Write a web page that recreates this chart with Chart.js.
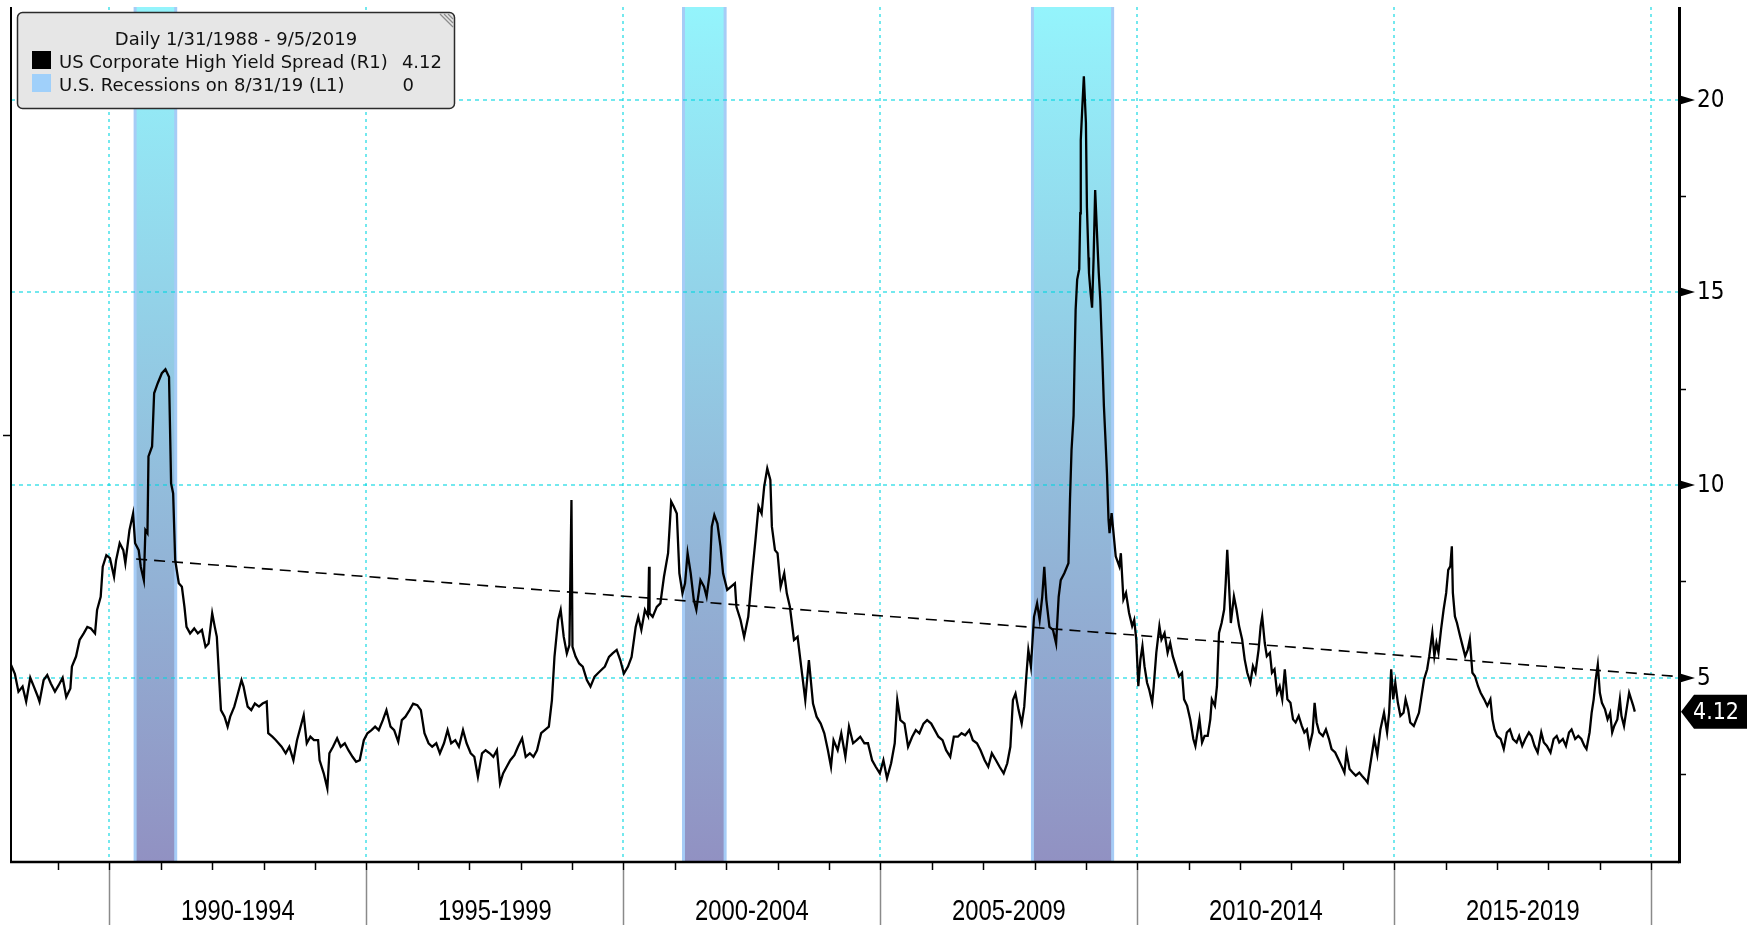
<!DOCTYPE html>
<html lang="en">
<head>
  <meta charset="UTF-8">
  <title>US Corporate High Yield Spread</title>
  <script src="https://cdn.jsdelivr.net/npm/chart.js"></script>
  <style>
    body {
      margin: 0;
      background: #fff;
    }
    .chart-container {
      width: 1751px;
      height: 925px;
    }
  </style>
</head>
<body>
  <div class="chart-container">
    <canvas id="spreadChart" width="1751" height="925"></canvas>
  </div>

  <script>
    // Axis ranges (decimal years / spread in %)
    const xMin = 1988.085, xMax = 2020.54;
    const yMin = 0.22, yMax = 22.4;

    const periodStarts = [1990, 1995, 2000, 2005, 2010, 2015, 2020];
    const periodLabels = ['1990-1994', '1995-1999', '2000-2004', '2005-2009', '2010-2014', '2015-2019'];
    const rightTicks = [5, 10, 15, 20];
    const rightMinorTicks = [2.5, 7.5, 12.5, 17.5];

    // US recessions (start, end) in decimal years
    const recessions = [[1990.5, 1991.29], [2001.17, 2001.98], [2007.96, 2009.52]];

    // dashed trend line end points
    const trendDates = [1990.52, 2020.54];
    const trendValues = [8.08, 5.03];

    // US Corporate High Yield Spread
    const spreadDates = [
      // 1988-1989
      1988.086, 1988.16, 1988.23, 1988.31, 1988.38, 1988.46, 1988.53, 1988.61, 1988.64, 1988.72, 1988.79, 1988.86, 1988.94,
      1989.01, 1989.09, 1989.16, 1989.24, 1989.27, 1989.35, 1989.42, 1989.50, 1989.57, 1989.64, 1989.72, 1989.76, 1989.83, 1989.87, 1989.94,
      // 1990-1991
      1990.01, 1990.09, 1990.13, 1990.20, 1990.27, 1990.31, 1990.39, 1990.46, 1990.50, 1990.57, 1990.61, 1990.67, 1990.70, 1990.74, 1990.76, 1990.83, 1990.87, 1990.94,
      1991.02, 1991.09, 1991.16, 1991.20, 1991.24, 1991.28, 1991.35, 1991.41, 1991.46, 1991.50, 1991.57, 1991.65, 1991.72, 1991.80, 1991.87, 1991.93,
      // 1992-1994
      1992.00, 1992.05, 1992.09, 1992.13, 1992.17, 1992.24, 1992.30, 1992.35, 1992.43, 1992.50, 1992.57, 1992.61, 1992.65, 1992.69, 1992.76, 1992.83, 1992.91, 1992.98,
      1993.06, 1993.09, 1993.17, 1993.24, 1993.35, 1993.43, 1993.50, 1993.58, 1993.65, 1993.72, 1993.78, 1993.84, 1993.91, 1993.98,
      1994.06, 1994.09, 1994.17, 1994.24, 1994.28, 1994.35, 1994.43, 1994.50, 1994.58, 1994.65, 1994.73, 1994.80, 1994.87, 1994.95,
      // 1995-1997
      1995.02, 1995.10, 1995.17, 1995.24, 1995.32, 1995.39, 1995.47, 1995.54, 1995.62, 1995.69, 1995.76, 1995.84, 1995.91, 1995.99,
      1996.06, 1996.13, 1996.21, 1996.28, 1996.36, 1996.43, 1996.51, 1996.58, 1996.65, 1996.73, 1996.80, 1996.88, 1996.95,
      1997.03, 1997.10, 1997.17, 1997.25, 1997.32, 1997.40, 1997.47, 1997.54, 1997.60, 1997.66, 1997.73, 1997.80, 1997.88, 1997.95,
      // 1998-1999
      1998.03, 1998.10, 1998.18, 1998.25, 1998.32, 1998.40, 1998.47, 1998.55, 1998.61, 1998.66, 1998.73, 1998.78, 1998.84, 1998.90, 1998.95, 1998.99,
      1999.01, 1999.07, 1999.14, 1999.21, 1999.29, 1999.36, 1999.44, 1999.50, 1999.57, 1999.64, 1999.72, 1999.79, 1999.87, 1999.94,
      // 2000-2002
      2000.01, 2000.09, 2000.16, 2000.24, 2000.29, 2000.35, 2000.42, 2000.48, 2000.50, 2000.51, 2000.57, 2000.65, 2000.72, 2000.79, 2000.87, 2000.93, 2000.98,
      2001.04, 2001.09, 2001.15, 2001.20, 2001.25, 2001.31, 2001.37, 2001.42, 2001.50, 2001.57, 2001.62, 2001.68, 2001.72, 2001.77, 2001.83, 2001.89, 2001.94,
      2002.02, 2002.09, 2002.17, 2002.20, 2002.28, 2002.35, 2002.43, 2002.50, 2002.57, 2002.63, 2002.69, 2002.74, 2002.80, 2002.86, 2002.89, 2002.95,
      // 2003-2005
      2003.00, 2003.06, 2003.13, 2003.18, 2003.24, 2003.32, 2003.39, 2003.46, 2003.54, 2003.61, 2003.69, 2003.76, 2003.84, 2003.91, 2003.98,
      2004.04, 2004.09, 2004.17, 2004.24, 2004.32, 2004.39, 2004.47, 2004.54, 2004.61, 2004.69, 2004.76, 2004.84, 2004.91, 2004.99,
      2005.06, 2005.13, 2005.21, 2005.28, 2005.33, 2005.39, 2005.47, 2005.54, 2005.62, 2005.69, 2005.76, 2005.84, 2005.91, 2005.99,
      // 2006-2008
      2006.06, 2006.13, 2006.21, 2006.28, 2006.36, 2006.43, 2006.51, 2006.58, 2006.65, 2006.73, 2006.80, 2006.88, 2006.95,
      2007.03, 2007.10, 2007.17, 2007.25, 2007.32, 2007.40, 2007.47, 2007.53, 2007.58, 2007.63, 2007.69, 2007.75, 2007.80, 2007.84, 2007.88, 2007.93, 2007.99,
      2008.05, 2008.10, 2008.15, 2008.19, 2008.23, 2008.29, 2008.36, 2008.42, 2008.47, 2008.51, 2008.58, 2008.66, 2008.69, 2008.72, 2008.76, 2008.78, 2008.80, 2008.83, 2008.87, 2008.89, 2008.90, 2008.93, 2008.96,
      // 2009
      2009.00, 2009.02, 2009.05, 2009.06, 2009.09, 2009.12, 2009.15, 2009.18, 2009.22, 2009.25, 2009.28, 2009.32, 2009.35, 2009.38, 2009.41, 2009.44, 2009.46, 2009.50, 2009.58, 2009.65, 2009.68, 2009.73, 2009.78, 2009.84, 2009.90, 2009.94, 2009.98,
      // 2010-2012
      2010.02, 2010.06, 2010.10, 2010.14, 2010.19, 2010.23, 2010.29, 2010.32, 2010.37, 2010.43, 2010.47, 2010.53, 2010.59, 2010.64, 2010.69, 2010.75, 2010.81, 2010.87, 2010.91, 2010.97,
      2011.03, 2011.09, 2011.13, 2011.18, 2011.21, 2011.26, 2011.31, 2011.37, 2011.42, 2011.45, 2011.51, 2011.55, 2011.59, 2011.64, 2011.69, 2011.72, 2011.75, 2011.78, 2011.82, 2011.85, 2011.88, 2011.93, 2011.98,
      2012.04, 2012.09, 2012.14, 2012.20, 2012.25, 2012.30, 2012.36, 2012.40, 2012.43, 2012.48, 2012.52, 2012.58, 2012.62, 2012.67, 2012.72, 2012.77, 2012.82, 2012.87, 2012.92, 2012.98,
      // 2013-2015
      2013.03, 2013.08, 2013.14, 2013.20, 2013.25, 2013.30, 2013.35, 2013.41, 2013.45, 2013.49, 2013.54, 2013.61, 2013.67, 2013.73, 2013.78, 2013.85, 2013.91, 2013.97,
      2014.03, 2014.07, 2014.13, 2014.19, 2014.25, 2014.32, 2014.37, 2014.43, 2014.48, 2014.53, 2014.57, 2014.61, 2014.67, 2014.73, 2014.80, 2014.86, 2014.90, 2014.94, 2014.98,
      2015.02, 2015.07, 2015.12, 2015.18, 2015.22, 2015.27, 2015.31, 2015.38, 2015.43, 2015.48, 2015.52, 2015.58, 2015.64, 2015.68, 2015.74, 2015.78, 2015.82, 2015.86, 2015.91, 2015.96,
      // 2016-2017
      2016.01, 2016.05, 2016.09, 2016.12, 2016.14, 2016.18, 2016.22, 2016.28, 2016.33, 2016.38, 2016.43, 2016.47, 2016.52, 2016.57, 2016.63, 2016.68, 2016.75, 2016.81, 2016.87, 2016.91, 2016.95,
      2017.00, 2017.07, 2017.13, 2017.19, 2017.25, 2017.31, 2017.38, 2017.43, 2017.49, 2017.55, 2017.62, 2017.67, 2017.73, 2017.79, 2017.86, 2017.91, 2017.97,
      // 2018-2019
      2018.04, 2018.10, 2018.16, 2018.21, 2018.28, 2018.34, 2018.40, 2018.45, 2018.52, 2018.58, 2018.64, 2018.70, 2018.74, 2018.80, 2018.84, 2018.88, 2018.92, 2018.96,
      2019.00, 2019.04, 2019.10, 2019.15, 2019.20, 2019.24, 2019.28, 2019.34, 2019.39, 2019.42, 2019.47, 2019.53, 2019.57, 2019.61, 2019.65, 2019.68
    ];
    const spreadValues = [
      // 1988-1989
      5.33, 5.10, 4.64, 4.77, 4.38, 5.00, 4.77, 4.50, 4.38, 4.94, 5.07, 4.85, 4.64,
      4.80, 5.00, 4.50, 4.72, 5.29, 5.55, 5.98, 6.15, 6.32, 6.28, 6.15, 6.76, 7.10, 7.88, 8.18,
      // 1990-1991
      8.10, 7.62, 8.05, 8.49, 8.31, 7.97, 8.83, 9.26, 8.49, 8.31, 7.88, 7.53, 8.83, 8.75, 10.74, 11.00, 12.38, 12.64,
      12.90, 13.00, 12.80, 10.04, 9.78, 8.05, 7.45, 7.36, 6.84, 6.32, 6.15, 6.28, 6.15, 6.24, 5.80, 5.89,
      // 1992-1994
      6.67, 6.32, 6.06, 5.11, 4.16, 3.99, 3.73, 3.99, 4.25, 4.59, 4.94, 4.77, 4.50, 4.25, 4.16, 4.33, 4.25, 4.33,
      4.38, 3.56, 3.47, 3.38, 3.21, 3.04, 3.21, 2.86, 3.38, 3.73, 4.03, 3.30, 3.47, 3.38,
      3.38, 2.86, 2.52, 2.13, 3.04, 3.21, 3.43, 3.21, 3.30, 3.12, 2.95, 2.82, 2.86, 3.38,
      // 1995-1997
      3.56, 3.64, 3.73, 3.64, 3.90, 4.16, 3.73, 3.64, 3.34, 3.90, 3.99, 4.16, 4.33, 4.29,
      4.16, 3.56, 3.30, 3.21, 3.30, 3.04, 3.30, 3.64, 3.30, 3.38, 3.21, 3.64, 3.30,
      3.04, 2.95, 2.43, 3.04, 3.12, 3.04, 2.95, 3.12, 2.26, 2.52, 2.69, 2.86, 2.99, 3.21,
      // 1998-1999
      3.43, 2.95, 3.04, 2.95, 3.12, 3.56, 3.64, 3.73, 4.42, 5.55, 6.50, 6.76, 6.06, 5.63, 5.85, 9.61,
      5.80, 5.55, 5.37, 5.29, 4.94, 4.77, 5.03, 5.11, 5.20, 5.29, 5.54, 5.63, 5.72, 5.46,
      // 2000-2002
      5.11, 5.29, 5.54, 6.32, 6.58, 6.24, 6.76, 6.60, 7.88, 6.67, 6.58, 6.84, 6.93, 7.62, 8.23, 9.57, 9.44,
      9.26, 7.71, 7.19, 7.45, 8.23, 7.71, 7.02, 6.76, 7.53, 7.36, 7.10, 7.71, 8.92, 9.22, 9.00, 8.40, 7.71,
      7.28, 7.36, 7.45, 6.84, 6.50, 6.06, 6.58, 7.62, 8.57, 9.44, 9.26, 9.96, 10.43, 10.13, 8.92, 8.31,
      // 2003-2005
      8.23, 7.36, 7.71, 7.19, 6.84, 5.98, 6.06, 5.29, 4.42, 5.46, 4.33, 3.99, 3.81, 3.56, 3.12,
      2.69, 3.38, 3.12, 3.56, 2.95, 3.73, 3.30, 3.38, 3.47, 3.30, 3.30, 2.86, 2.69, 2.52,
      2.86, 2.39, 2.78, 3.30, 4.42, 3.90, 3.81, 3.21, 3.47, 3.64, 3.56, 3.81, 3.90, 3.81,
      // 2006-2008
      3.64, 3.47, 3.38, 3.12, 2.95, 3.47, 3.47, 3.56, 3.51, 3.64, 3.38, 3.30, 3.12,
      2.86, 2.69, 3.04, 2.86, 2.69, 2.52, 2.78, 3.21, 4.42, 4.59, 4.16, 3.81, 4.25, 5.03, 5.72, 5.29, 6.58,
      6.93, 6.50, 7.10, 7.88, 7.02, 6.32, 6.24, 5.89, 7.10, 7.53, 7.71, 7.97, 9.61, 10.90, 11.80, 13.26, 14.55, 15.33, 15.60, 17.05, 18.95, 19.80, 20.60,
      // 2009
      19.40, 17.20, 15.90, 15.50, 15.00, 14.60, 15.90, 17.65, 16.40, 15.50, 14.80, 13.30, 12.05, 11.20, 10.30, 9.10, 8.75, 9.27, 8.15, 7.89, 8.23, 7.03, 7.20, 6.68, 6.34, 6.50, 5.99,
      // 2010-2012
      4.78, 5.47, 5.82, 5.30, 4.87, 4.70, 4.35, 4.78, 5.65, 6.34, 5.99, 6.16, 5.65, 5.90, 5.56, 5.30, 5.04, 5.13, 4.44, 4.27,
      3.92, 3.41, 3.23, 3.66, 3.92, 3.32, 3.49, 3.49, 3.92, 4.44, 4.27, 4.78, 6.16, 6.42, 6.77, 7.46, 8.32, 7.54, 6.42, 6.77, 7.11, 6.77, 6.34,
      5.99, 5.47, 5.13, 4.87, 5.30, 5.13, 5.73, 6.34, 6.59, 5.90, 5.56, 5.65, 5.13, 5.22, 4.61, 4.78, 4.44, 5.22, 4.44, 4.35,
      // 2013-2015
      3.92, 3.84, 4.01, 3.75, 3.58, 3.66, 3.23, 3.58, 4.35, 3.84, 3.58, 3.49, 3.66, 3.41, 3.15, 3.06, 2.89, 2.72,
      2.54, 3.06, 2.63, 2.54, 2.46, 2.54, 2.46, 2.37, 2.28, 2.72, 3.06, 3.41, 3.00, 3.66, 4.09, 3.58, 4.09, 5.22, 4.44,
      4.87, 4.35, 4.01, 4.09, 4.44, 4.18, 3.84, 3.75, 3.92, 4.09, 4.44, 4.96, 5.22, 5.56, 6.16, 5.56, 5.90, 5.65, 6.25, 6.77,
      // 2016-2017
      7.20, 7.80, 7.89, 8.41, 7.20, 6.59, 6.42, 6.08, 5.82, 5.56, 5.73, 5.99, 5.13, 5.04, 4.78, 4.61, 4.44, 4.27, 4.44, 3.92, 3.66,
      3.49, 3.41, 3.15, 3.58, 3.66, 3.41, 3.32, 3.49, 3.23, 3.41, 3.58, 3.49, 3.23, 3.06, 3.58, 3.32, 3.23,
      // 2018-2019
      3.06, 3.41, 3.49, 3.32, 3.41, 3.23, 3.58, 3.66, 3.41, 3.49, 3.41, 3.23, 3.15, 3.58, 4.09, 4.44, 4.96, 5.34,
      4.61, 4.35, 4.18, 3.92, 4.09, 3.58, 3.75, 3.92, 4.44, 4.01, 3.75, 4.27, 4.61, 4.44, 4.27, 4.12
    ];

    const legendTitle = 'Daily 1/31/1988 - 9/5/2019';
    const legendRows = [
      { label: 'US Corporate High Yield Spread (R1)', value: '4.12', color: '#000000' },
      { label: 'U.S. Recessions on 8/31/19 (L1)', value: '0', color: '#a0d0fa' }
    ];

    // ---- build datasets ----
    const spreadPoints = spreadDates.map((d, i) => ({ x: d, y: spreadValues[i] }));

    // recession indicator as a 0/1 step series on the left axis
    const recessionPoints = [{ x: xMin, y: 0 }];
    recessions.forEach(([s, e]) => {
      recessionPoints.push({ x: s, y: 0 }, { x: s, y: 1 }, { x: e, y: 1 }, { x: e, y: 0 });
    });
    recessionPoints.push({ x: xMax, y: 0 });

    const trendPoints = trendDates.map((d, i) => ({ x: d, y: trendValues[i] }));

    function recessionFill(context) {
      const area = context.chart.chartArea;
      if (!area) return 'rgba(0,0,0,0)';
      const g = context.chart.ctx.createLinearGradient(0, area.top, 0, area.bottom);
      g.addColorStop(0, '#94f4fc');
      g.addColorStop(1, '#9191c2');
      return g;
    }

    function line(ctx, x1, y1, x2, y2) {
      ctx.beginPath();
      ctx.moveTo(x1, y1);
      ctx.lineTo(x2, y2);
      ctx.stroke();
    }

    // grid goes on top of the recession bars but under the lines
    const gridPlugin = {
      id: 'gridOverBars',
      afterDatasetDraw(chart, args) {
        if (args.index !== 0) return;
        const { ctx, chartArea: a, scales } = chart;
        ctx.save();
        ctx.beginPath();
        ctx.rect(a.left, a.top, a.right - a.left, a.bottom - a.top);
        ctx.clip();
        ctx.strokeStyle = 'rgba(0, 214, 224, 0.55)';
        ctx.lineWidth = 2;
        ctx.setLineDash([4, 4]);
        rightTicks.forEach(v => {
          const y = Math.round(scales.y.getPixelForValue(v));
          line(ctx, a.left, y, a.right, y);
        });
        ctx.setLineDash([3, 4]);
        periodStarts.forEach(yr => {
          const x = Math.round(scales.x.getPixelForValue(yr));
          line(ctx, x, a.top, x, a.bottom);
        });
        ctx.restore();
      }
    };

    const axesPlugin = {
      id: 'bbgAxes',
      afterDraw(chart) {
        const { ctx, chartArea: a, scales } = chart;
        const xs = scales.x, ys = scales.y, yl = scales.yL;
        const H = chart.height;
        ctx.save();
        ctx.strokeStyle = '#000';
        ctx.fillStyle = '#000';

        // left (L1) axis
        ctx.lineWidth = 2;
        line(ctx, a.left, a.top, a.left, a.bottom);
        const ly = Math.round(yl.getPixelForValue(0.5)) + 0.5;
        ctx.lineWidth = 1.5;
        line(ctx, a.left - 8, ly, a.left, ly);

        // year ticks and period separators
        for (let yr = Math.ceil(xs.min); yr <= xs.max; yr++) {
          const x = Math.round(xs.getPixelForValue(yr)) + 0.5;
          ctx.strokeStyle = '#000';
          ctx.lineWidth = 1.5;
          line(ctx, x, a.bottom, x, a.bottom + 8);
          if (periodStarts.includes(yr)) {
            ctx.strokeStyle = '#8a8a8a';
            line(ctx, x, a.bottom + 8, x, H);
          }
        }

        // period labels, narrow face
        ctx.fillStyle = '#000';
        ctx.font = '29px "Liberation Sans", Arial, sans-serif';
        ctx.textAlign = 'center';
        ctx.textBaseline = 'alphabetic';
        periodLabels.forEach((lab, i) => {
          const x = (xs.getPixelForValue(periodStarts[i]) + xs.getPixelForValue(periodStarts[i + 1])) / 2;
          ctx.save();
          ctx.translate(x, 920);
          ctx.scale(0.82, 1);
          ctx.fillText(lab, 0, 0);
          ctx.restore();
        });

        // bottom axis
        ctx.strokeStyle = '#000';
        ctx.lineWidth = 2.5;
        line(ctx, a.left - 1, a.bottom, a.right, a.bottom);

        // right (R1) axis
        ctx.lineWidth = 3;
        line(ctx, a.right + 0.5, a.top, a.right + 0.5, a.bottom + 1.2);

        ctx.lineWidth = 1.5;
        rightMinorTicks.forEach(v => {
          const y = Math.round(ys.getPixelForValue(v)) + 0.5;
          line(ctx, a.right, y, a.right + 7, y);
        });

        ctx.font = '24px "DejaVu Sans Condensed", "DejaVu Sans", sans-serif';
        ctx.textAlign = 'left';
        ctx.textBaseline = 'middle';
        rightTicks.forEach(v => {
          const y = Math.round(ys.getPixelForValue(v));
          ctx.beginPath();
          ctx.moveTo(a.right + 1, y - 4.5);
          ctx.lineTo(a.right + 16, y);
          ctx.lineTo(a.right + 1, y + 4.5);
          ctx.closePath();
          ctx.fill();
          ctx.fillText(String(v), a.right + 18, y + 1);
        });

        // last value tag
        const last = spreadValues[spreadValues.length - 1];
        const ty = ys.getPixelForValue(last);
        ctx.beginPath();
        ctx.moveTo(a.right + 2, ty);
        ctx.lineTo(a.right + 15, ty - 17);
        ctx.lineTo(1747, ty - 17);
        ctx.lineTo(1747, ty + 17);
        ctx.lineTo(a.right + 15, ty + 17);
        ctx.closePath();
        ctx.fill();
        ctx.fillStyle = '#fff';
        ctx.font = '23px "DejaVu Sans Condensed", "DejaVu Sans", sans-serif';
        ctx.textAlign = 'center';
        ctx.fillText(last.toFixed(2), 1716, ty + 1);

        drawLegend(ctx);
        ctx.restore();
      }
    };

    function drawLegend(ctx) {
      const x = 17.5, y = 12.5, w = 437, h = 96, r = 5;
      ctx.save();
      ctx.beginPath();
      ctx.moveTo(x + r, y);
      ctx.arcTo(x + w, y, x + w, y + h, r);
      ctx.arcTo(x + w, y + h, x, y + h, r);
      ctx.arcTo(x, y + h, x, y, r);
      ctx.arcTo(x, y, x + w, y, r);
      ctx.closePath();
      ctx.fillStyle = '#e6e6e6';
      ctx.fill();
      ctx.lineWidth = 1.5;
      ctx.strokeStyle = '#2b2b2b';
      ctx.stroke();

      // resize grip
      ctx.strokeStyle = '#8c8c8c';
      ctx.lineWidth = 1.2;
      for (let k = 0; k < 3; k++) {
        line(ctx, 440 + k * 4, 14, 453, 27 - k * 4);
      }

      ctx.fillStyle = '#111';
      ctx.font = '18px "DejaVu Sans", sans-serif';
      ctx.textBaseline = 'alphabetic';
      ctx.textAlign = 'center';
      ctx.fillText(legendTitle, 236, 45);

      const rowBase = [68, 91];
      legendRows.forEach((row, i) => {
        const by = rowBase[i];
        ctx.fillStyle = row.color;
        ctx.fillRect(32, by - 17, 19, 18);
        ctx.fillStyle = '#111';
        ctx.textAlign = 'left';
        ctx.fillText(row.label, 59, by);
        ctx.textAlign = 'right';
        ctx.fillText(row.value, i === 0 ? 442 : 414, by);
      });
      ctx.restore();
    }

    const edgeColor = '#a6ccf6';

    const config = {
      type: 'line',
      data: {
        datasets: [
          {
            label: 'U.S. Recessions on 8/31/19 (L1)',
            data: recessionPoints,
            yAxisID: 'yL',
            order: 3,
            fill: 'origin',
            backgroundColor: recessionFill,
            borderWidth: 3,
            borderColor: edgeColor,
            segment: {
              borderColor: c => (c.p0.parsed.x === c.p1.parsed.x ? edgeColor : 'rgba(0,0,0,0)')
            },
            pointRadius: 0,
            tension: 0
          },
          {
            label: 'Trend',
            data: trendPoints,
            yAxisID: 'y',
            order: 2,
            borderColor: '#000',
            borderWidth: 1.6,
            borderDash: [11, 7],
            pointRadius: 0,
            fill: false
          },
          {
            label: 'US Corporate High Yield Spread (R1)',
            data: spreadPoints,
            yAxisID: 'y',
            order: 1,
            borderColor: '#000',
            borderWidth: 2.3,
            pointRadius: 0,
            tension: 0,
            fill: false
          }
        ]
      },
      options: {
        responsive: false,
        devicePixelRatio: 1,
        animation: false,
        events: [],
        layout: {
          padding: { left: 11, right: 72, top: 7, bottom: 63 }
        },
        scales: {
          x: { type: 'linear', min: xMin, max: xMax, display: false },
          y: { type: 'linear', position: 'right', min: yMin, max: yMax, display: false },
          yL: { type: 'linear', position: 'left', min: 0, max: 1, display: false }
        },
        plugins: {
          legend: { display: false },
          tooltip: { enabled: false }
        }
      },
      plugins: [gridPlugin, axesPlugin]
    };

    const ctx = document.getElementById('spreadChart').getContext('2d');
    const chart = new Chart(ctx, config);
  </script>
</body>
</html>
